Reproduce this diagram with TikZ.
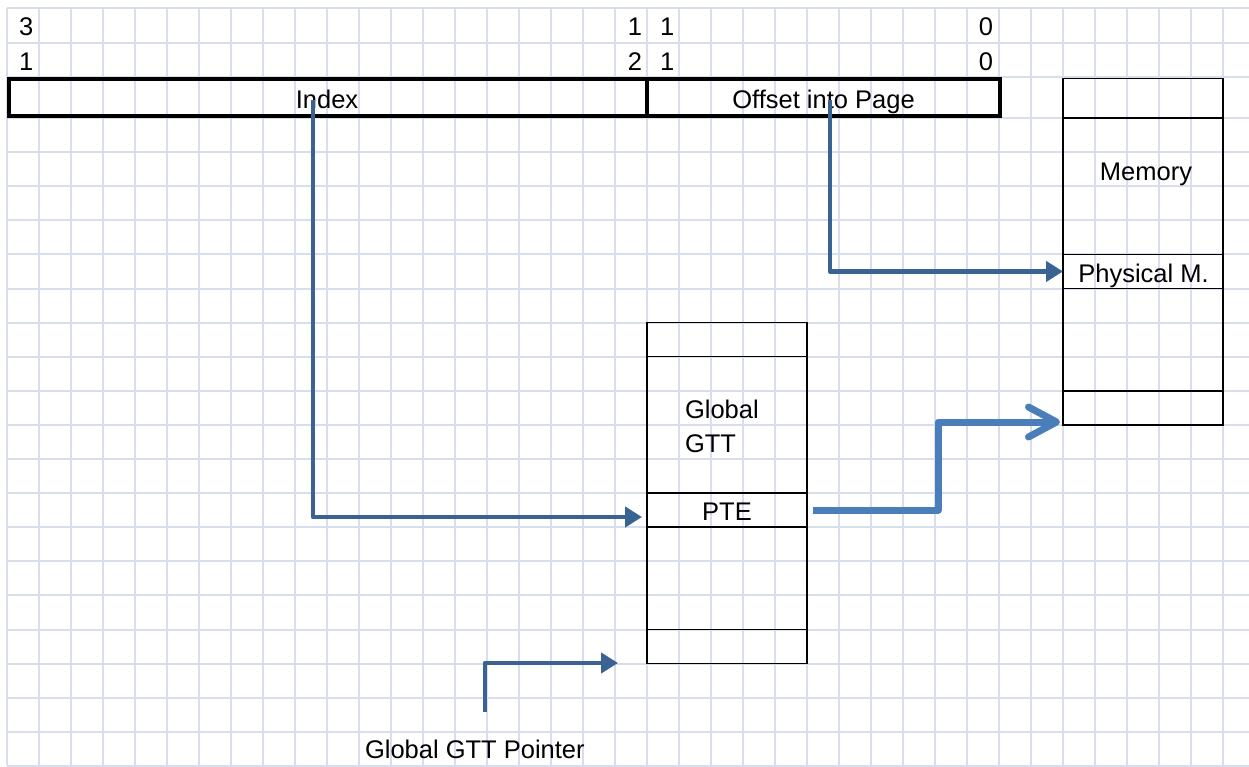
\documentclass[tikz,border=0pt]{standalone}
\usepackage{fontspec}
\setmainfont{Liberation Sans}
\usetikzlibrary{arrows.meta}
\definecolor{gridc}{RGB}{216,222,235}
\definecolor{arrdark}{RGB}{58,98,146}
\definecolor{arrlight}{RGB}{74,126,187}
\begin{document}
\begin{tikzpicture}[x=1pt,y=-1pt,
  every node/.style={inner sep=0pt, outer sep=0pt},
  lbl/.style={font=\fontsize{25.5}{30}\selectfont, text=black},
  gridline/.style={draw=gridc, line width=2pt},
  thickbox/.style={draw=black, line width=4.5pt, rectangle},
  cellbox/.style={draw=black, line width=1.5pt, rectangle, minimum width=160pt},
  thinarrow/.style={draw=arrdark, line width=4.5pt, line join=round, -{Triangle[length=17pt,width=20pt]}},
  thickarrow/.style={draw=arrlight, line width=7pt, line join=round, -{Straight Barb[length=28pt,width=30pt,round]}}
]
\useasboundingbox (0,0) rectangle (1249,766);
\fill[white] (0,0) rectangle (1249,766);
% grid
\foreach \k in {0,...,38} \draw[gridline] ({7+32*\k},8) -- ({7+32*\k},766);
\foreach \yy in {8,42.5,77} \draw[gridline] (7,\yy) -- (1249,\yy);
\foreach \k in {0,...,19} \draw[gridline] (7,{118+34.1*\k}) -- (1249,{118+34.1*\k});

% bit numbers
\node[lbl, anchor=base west] (b31a) at (19,35) {3};
\node[lbl, anchor=base west] (b31b) at (19,70) {1};
\node[lbl, anchor=base east] (b12a) at (642,35) {1};
\node[lbl, anchor=base east] (b12b) at (642,70) {2};
\node[lbl, anchor=base west] (b11a) at (660,35) {1};
\node[lbl, anchor=base west] (b11b) at (660,70) {1};
\node[lbl, anchor=base east] (b0a) at (993,35) {0};
\node[lbl, anchor=base east] (b0b) at (993,70) {0};

% address bar
\node[thickbox, minimum width=638pt, minimum height=37pt] (idx) at (328,97.5) {};
\node[thickbox, minimum width=353pt, minimum height=37pt] (off) at (823.5,97.5) {};
\node[lbl, anchor=base] (idxt) at (327,108) {Index};
\node[lbl, anchor=base] (offt) at (823.5,108) {Offset into Page};

% memory column
\node[cellbox, minimum height=39.5pt] (m0) at (1143,98.25) {};
\node[cellbox, minimum height=136.4pt] (m1) at (1143,186.2) {};
\node[cellbox, minimum height=34.1pt] (phys) at (1143,271.45) {};
\node[cellbox, minimum height=102.3pt] (m3) at (1143,339.65) {};
\node[cellbox, minimum height=34.1pt] (m4) at (1143,407.85) {};
\node[lbl, anchor=base] (memt) at (1146,180) {Memory};
\node[lbl, anchor=base] (physt) at (1143.5,282) {Physical M.};

% global GTT column
\node[cellbox, minimum height=34.1pt] (g0) at (727,339.65) {};
\node[cellbox, minimum height=136.4pt] (g1) at (727,424.85) {};
\node[cellbox, minimum height=34.1pt] (pte) at (727,510.1) {};
\node[cellbox, minimum height=102.3pt] (g3) at (727,578.3) {};
\node[cellbox, minimum height=34.1pt] (g4) at (727,646.5) {};
\node[lbl, anchor=base west] (gl1) at (685,418) {Global};
\node[lbl, anchor=base west] (gl2) at (685,452) {GTT};
\node[lbl, anchor=base] (ptet) at (727,520) {PTE};

% pointer label
\node[lbl, anchor=base west] (gp) at (365,758) {Global GTT Pointer};

% connectors
\coordinate (idxsrc) at (313,100);
\coordinate (idxend) at (642,517);
\draw[thinarrow] (idxsrc) |- (idxend);

\coordinate (offsrc) at (830,100);
\draw[thinarrow] (offsrc) |- (phys.west);

\coordinate (ptesrc) at (813,510.1);
\coordinate (stepc) at (938,466);
\coordinate (memin) at (1060,422);
\draw[thickarrow] (ptesrc) -| (stepc) |- (memin);

\coordinate (gpsrc) at (485,712);
\coordinate (gpend) at (618,663);
\draw[thinarrow] (gpsrc) |- (gpend);
\end{tikzpicture}
\end{document}
